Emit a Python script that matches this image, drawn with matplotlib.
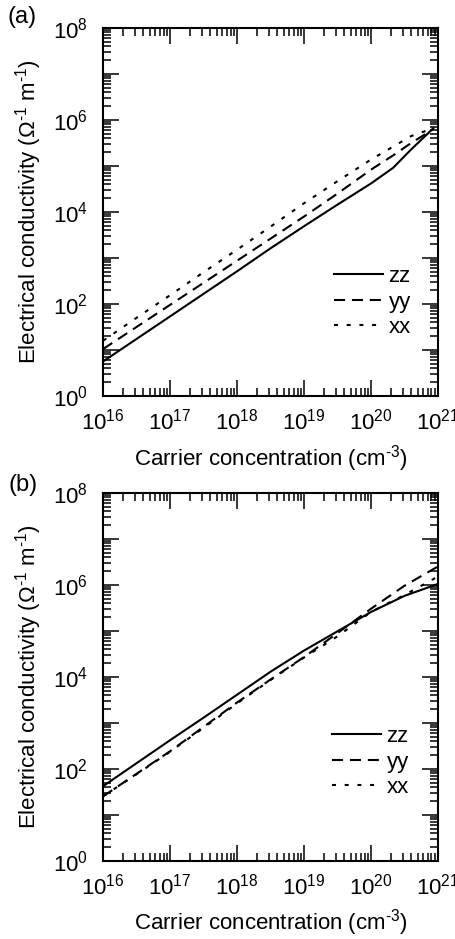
import numpy as np
import matplotlib
matplotlib.use("Agg")
import matplotlib.pyplot as plt
from matplotlib.ticker import LogLocator, FuncFormatter, NullFormatter

plt.rcParams['font.family'] = ['Liberation Sans', 'DejaVu Sans']
plt.rcParams['mathtext.fontset'] = 'custom'
plt.rcParams['mathtext.rm'] = 'Liberation Sans'
plt.rcParams['mathtext.it'] = 'Liberation Sans:italic'
plt.rcParams['font.size'] = 16

# values, stored as log10
logn_a = [16.0, 16.5, 17.0, 17.5, 18.0, 18.5, 19.0, 19.5, 20.0, 20.33, 20.6, 20.93]
zz_a = [0.75, 1.24, 1.73, 2.22, 2.71, 3.21, 3.69, 4.16, 4.62, 4.96, 5.36, 5.82]
yy_a = [1.02, 1.50, 1.98, 2.46, 2.94, 3.42, 3.90, 4.40, 4.92, 5.23, 5.50, 5.80]
xx_a = [1.20, 1.70, 2.19, 2.69, 3.18, 3.68, 4.19, 4.67, 5.14, 5.42, 5.65, 5.82]

logn_b = [16.0, 16.5, 17.0, 17.5, 18.0, 18.5, 19.0, 19.5, 20.0, 20.5, 21.0]
zz_b = [1.62, 2.12, 2.62, 3.11, 3.61, 4.11, 4.57, 4.99, 5.41, 5.76, 6.02]
yy_b = [1.40, 1.89, 2.38, 2.91, 3.44, 3.94, 4.43, 4.95, 5.48, 5.98, 6.40]
xx_b = [1.40, 1.88, 2.37, 2.89, 3.42, 3.93, 4.42, 4.88, 5.41, 5.78, 6.18]

labels = ['zz', 'yy', 'xx']
styles = ['-', (0, (5.3, 3.3)), (0, (1.9, 4.2))]

fig = plt.figure(figsize=(4.56, 9.39), dpi=100)
ax_a = fig.add_axes([0.226, 0.5783, 0.7345, 0.3919])
ax_b = fig.add_axes([0.226, 0.0834, 0.7345, 0.3917])


def exp_label(v, pos):
    e = int(round(np.log10(v)))
    return r'$10^{%d}$' % e


def y_label(v, pos):
    e = int(round(np.log10(v)))
    if e % 2:
        return ''
    return r'$10^{%d}$' % e


def setup(ax, logn, series, leg_anchor):
    n = 10.0 ** np.array(logn)
    for s, lab, ls in zip(series, labels, styles):
        ax.plot(n, 10.0 ** np.array(s), color='black', lw=1.5, ls=ls, label=lab)
    ax.set_xscale('log')
    ax.set_yscale('log')
    ax.set_xlim(1e16, 1e21)
    ax.set_ylim(1e0, 1e8)
    ax.xaxis.set_major_locator(LogLocator(base=10, numticks=10))
    ax.xaxis.set_minor_locator(LogLocator(base=10, subs=np.arange(2, 10), numticks=20))
    ax.yaxis.set_major_locator(LogLocator(base=10, numticks=20))
    ax.yaxis.set_minor_locator(LogLocator(base=10, subs=np.arange(2, 10), numticks=20))
    ax.xaxis.set_major_formatter(FuncFormatter(exp_label))
    ax.yaxis.set_major_formatter(FuncFormatter(y_label))
    ax.xaxis.set_minor_formatter(NullFormatter())
    ax.yaxis.set_minor_formatter(NullFormatter())
    ax.tick_params(which='both', direction='in', top=True, right=True, width=1.1)
    ax.tick_params(which='major', length=11.5)
    ax.tick_params(which='minor', length=5.8)
    ax.tick_params(axis='x', pad=9)
    ax.tick_params(axis='y', pad=11)
    for sp in ax.spines.values():
        sp.set_linewidth(1.5)
    ax.set_ylabel('Electrical conductivity (Ω$^{‐1}$ m$^{‐1}$)', labelpad=6)
    ax.set_xlabel('Carrier concentration (cm$^{‐3}$)', labelpad=6)
    ax.legend(loc='center left', bbox_to_anchor=leg_anchor, frameon=False,
              handlelength=2.2, handletextpad=0.25, labelspacing=0.2,
              borderpad=0, borderaxespad=0)


setup(ax_a, logn_a, [zz_a, yy_a, xx_a], (0.69, 0.255))
setup(ax_b, logn_b, [zz_b, yy_b, xx_b], (0.684, 0.268))

fig.text(0.048, 0.982, '(a)', ha='center', va='center', fontsize=17)
fig.text(0.050, 0.4835, '(b)', ha='center', va='center', fontsize=17)

fig.savefig('out.png', dpi=100)
